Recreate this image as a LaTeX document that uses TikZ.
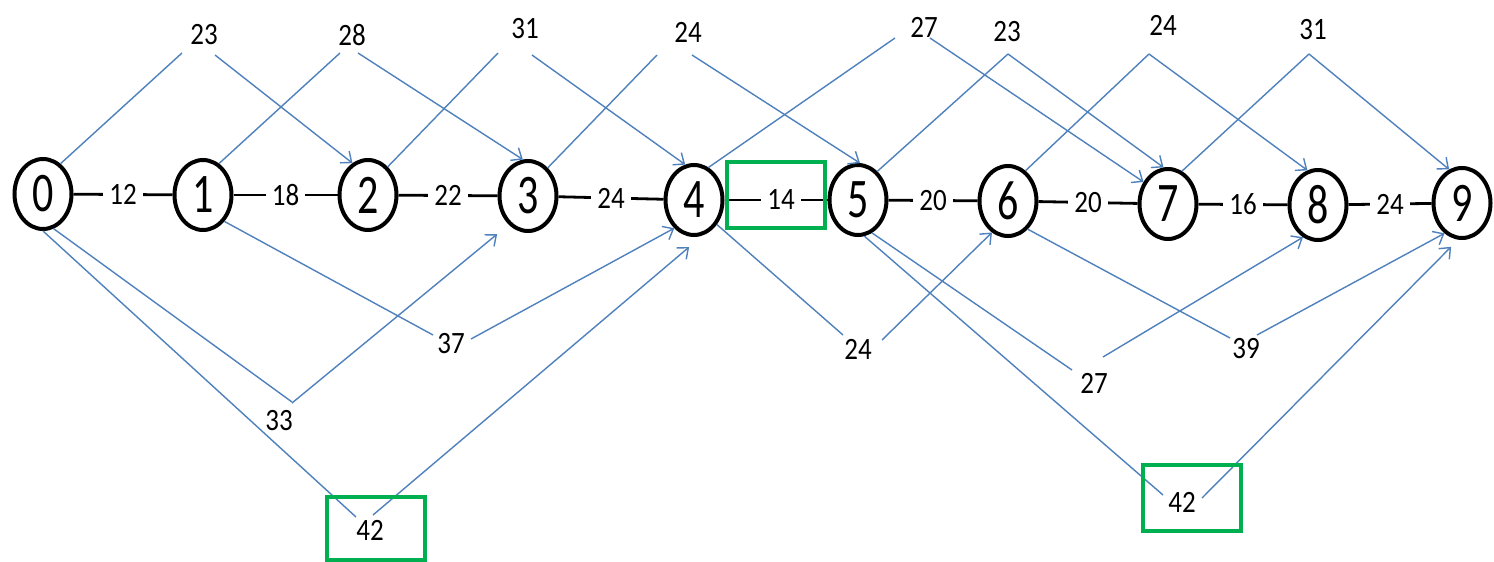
\documentclass[tikz,border=0pt]{standalone}
\usepackage{fontspec}
\setmainfont{Carlito}
\usepackage{graphicx}
\usetikzlibrary{arrows.meta,shapes.geometric}
\definecolor{arrowblue}{RGB}{79,129,189}
\definecolor{boxgreen}{RGB}{0,176,80}
\newcommand{\vlab}[1]{\scalebox{1}[1.15]{#1}}
\newcommand{\vnum}[1]{\scalebox{1}[1.33]{#1}}
\begin{document}
\begin{tikzpicture}[x=1pt,y=-1pt,
  vert/.style={ellipse, draw=black, line width=4pt, minimum width=57pt, minimum height=70pt, inner sep=0pt, font=\fontsize{42}{42}\selectfont},
  elab/.style={fill=white, inner xsep=6pt, inner ysep=1pt, font=\fontsize{27}{27}\selectfont},
  wlab/.style={inner sep=0pt, font=\fontsize{27}{27}\selectfont},
  hedge/.style={line width=2.8pt, black},
  bl/.style={draw=arrowblue, line width=1.4pt},
  ba/.style={bl, -{Straight Barb[length=9pt,width=15pt,line width=1.4pt]}},
  hbox/.style={draw=boxgreen, line width=4pt}
]
\useasboundingbox (0,0) rectangle (1494,562);
\fill[white] (0,0) rectangle (1494,562);

% vertices
\node[vert] (n0) at (43,194) {\vnum{0}};
\node[vert] (n1) at (203,195) {\vnum{1}};
\node[vert] (n2) at (368,195) {\vnum{2}};
\node[vert] (n3) at (528,196) {\vnum{3}};
\node[vert] (n4) at (694,200) {\vnum{4}};
\node[vert] (n5) at (858,200) {\vnum{5}};
\node[vert] (n6) at (1008,201) {\vnum{6}};
\node[vert] (n7) at (1168,204) {\vnum{7}};
\node[vert] (n8) at (1318,205) {\vnum{8}};
\node[vert] (n9) at (1462,203) {\vnum{9}};

% horizontal edges
\draw[hedge] (n0) -- node[elab]{\vlab{12}} (n1);
\draw[hedge] (n1) -- node[elab]{\vlab{18}} (n2);
\draw[hedge] (n2) -- node[elab]{\vlab{22}} (n3);
\draw[hedge] (n3) -- node[elab]{\vlab{24}} (n4);
\draw[hedge] (n4) -- node[elab, pos=0.55]{\vlab{14}} (n5);
\draw[hedge] (n5) -- node[elab]{\vlab{20}} (n6);
\draw[hedge] (n6) -- node[elab]{\vlab{20}} (n7);
\draw[hedge] (n7) -- node[elab]{\vlab{16}} (n8);
\draw[hedge] (n8) -- node[elab]{\vlab{24}} (n9);

% top labels
\node[wlab] (t1) at (204,35) {\vlab{23}};
\node[wlab] (t2) at (352,35) {\vlab{28}};
\node[wlab] (t3) at (525,29) {\vlab{31}};
\node[wlab] (t4) at (688,32) {\vlab{24}};
\node[wlab] (t5) at (924,27) {\vlab{27}};
\node[wlab] (t6) at (1007,32) {\vlab{23}};
\node[wlab] (t7) at (1163,25) {\vlab{24}};
\node[wlab] (t8) at (1313,30) {\vlab{31}};

% bottom labels
\node[wlab] (b1) at (451,344) {\vlab{37}};
\node[wlab] (b2) at (279,421) {\vlab{33}};
\node[wlab] (b3) at (370,530) {\vlab{42}};
\node[wlab] (b4) at (858,349) {\vlab{24}};
\node[wlab] (b5) at (1094,383) {\vlab{27}};
\node[wlab] (b6) at (1246,349) {\vlab{39}};
\node[wlab] (b7) at (1182,502) {\vlab{42}};

% vertex coordinates near labels
\coordinate (t1i) at (182,53);  \coordinate (t1o) at (215,55);
\coordinate (t2i) at (340,53);  \coordinate (t2o) at (358,53);
\coordinate (t3i) at (498,53);  \coordinate (t3o) at (532,55);
\coordinate (t4i) at (657,55);  \coordinate (t4o) at (692,55);
\coordinate (t5i) at (895,38);  \coordinate (t5o) at (930,38);
\coordinate (t6i) at (1008,54); \coordinate (t6o) at (1008,54);
\coordinate (t7i) at (1149,54); \coordinate (t7o) at (1149,54);
\coordinate (t8i) at (1309,54); \coordinate (t8o) at (1309,54);
\coordinate (b1i) at (433,335); \coordinate (b1o) at (471,339);
\coordinate (b2i) at (292,402); \coordinate (b2o) at (292,403);
\coordinate (b3i) at (356,517); \coordinate (b3o) at (373,515);
\coordinate (b4i) at (843,335); \coordinate (b4o) at (882,340);
\coordinate (b5i) at (1072,370); \coordinate (b5o) at (1103,357);
\coordinate (b6i) at (1230,338); \coordinate (b6o) at (1257,335);
\coordinate (b7i) at (1163,495); \coordinate (b7o) at (1202,498);

% top connectors
\draw[bl] (n0.60) -- (t1i);  \draw[ba] (t1o) -- (n2.116);
\draw[bl] (n1.63) -- (t2i);  \draw[ba] (t2o) -- (n3.98);
\draw[bl] (n2.55) -- (t3i);  \draw[ba] (t3o) -- (n4.104);
\draw[bl] (n3.55) -- (t4i);  \draw[ba] (t4o) -- (n5.87);
\draw[bl] (n4.66) -- (t5i);  \draw[ba] (t5o) -- (n7.138);
\draw[bl] (n5.56) -- (t6i);  \draw[ba] (t6o) -- (n7.97);
\draw[bl] (n6.60) -- (t7i);  \draw[ba] (t7o) -- (n8.107);
\draw[bl] (n7.67) -- (t8i);  \draw[ba] (t8o) -- (n9.111);

% bottom connectors
\draw[bl] (n1.-51) -- (b1i); \draw[ba] (b1o) -- (n4.-125);
\draw[bl] (n0.-73) -- (b2i); \draw[ba, shorten >=15pt] (b2o) -- (n3.-124);
\draw[bl] (n0.-90) -- (b3i); \draw[ba, shorten >=18pt] (b3o) -- (n4.-76);
\draw[bl] (n4.-47) -- (b4i); \draw[ba] (b4o) -- (n6.-117);
\draw[bl] (n5.-67) -- (b5i); \draw[ba] (b5o) -- (n8.-115);
\draw[bl] (n6.-55) -- (b6i); \draw[ba] (b6o) -- (n9.-120);
\draw[bl] (n5.-80) -- (b7i); \draw[ba, shorten >=10pt] (b7o) -- (n9.-96);

% highlight boxes
\draw[hbox] (727,162) rectangle (825,228);
\draw[hbox] (327,497) rectangle (425,560);
\draw[hbox] (1143,465) rectangle (1241,531);
\end{tikzpicture}
\end{document}
